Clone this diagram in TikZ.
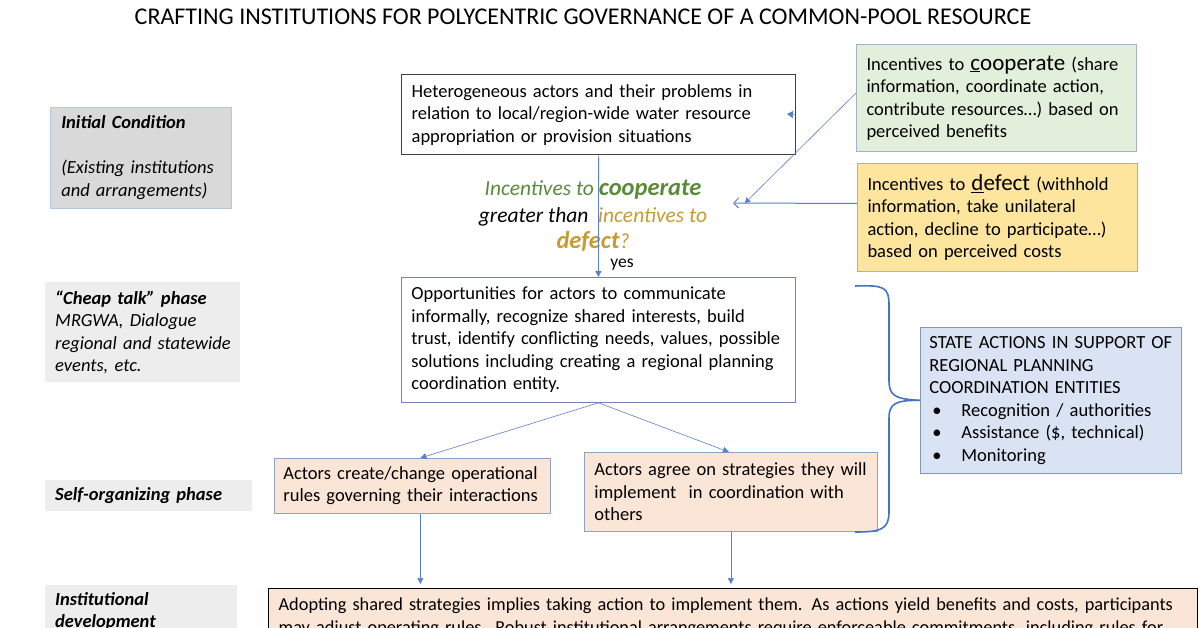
\documentclass[tikz,border=0pt]{standalone}
\usepackage{fontspec}
\setmainfont{Carlito}
\usetikzlibrary{arrows.meta}
\definecolor{lblgray}{HTML}{D9D9D9}
\definecolor{lblgraylt}{HTML}{EDEDED}
\definecolor{initborder}{HTML}{B4C7E7}
\definecolor{grfill}{HTML}{E2EFDA}
\definecolor{ylfill}{HTML}{FDE59E}
\definecolor{softborder}{HTML}{A4B1C8}
\definecolor{statefill}{HTML}{DAE3F3}
\definecolor{stateborder}{HTML}{7F97C4}
\definecolor{tanfill}{HTML}{FBE5D6}
\definecolor{tanborder}{HTML}{8FA1C4}
\definecolor{arrowblue}{HTML}{5B7FCE}
\definecolor{bracecol}{HTML}{4472C4}
\definecolor{qgreen}{HTML}{5A8A3A}
\definecolor{qgold}{HTML}{C49B34}
\definecolor{hetborder}{HTML}{404040}
\definecolor{oppborder}{HTML}{7086B0}
\newcommand\bodyfont{\fontsize{18.5}{22.5}\selectfont}
\newcommand\bigword{\fontsize{23}{22.5}\selectfont}
\newcommand\lineb[1]{\mbox{#1}}
\begin{document}
\begin{tikzpicture}[x=1pt,y=-1pt,
  box/.style={rectangle, anchor=north west, align=left, inner xsep=10pt, inner ysep=0pt, font=\bodyfont},
  label/.style={box, fill=lblgraylt, font=\bodyfont\itshape},
  arr/.style={draw=arrowblue, line width=0.8pt, -{Triangle[length=6pt,width=6pt]}},
  bracestyle/.style={draw=bracecol, line width=1.6pt}]
\useasboundingbox (0,0) rectangle (1200,628);
\clip (0,0) rectangle (1200,628);

% title
\node[font=\fontsize{24}{28}\selectfont] (title) at (583,17) {CRAFTING INSTITUTIONS FOR POLYCENTRIC GOVERNANCE OF A COMMON-POOL RESOURCE};

% left labels
\node[label, fill=lblgray, draw=initborder, line width=0.6pt, minimum width=181pt, minimum height=101pt, text width=159pt, inner xsep=11pt] (init) at (50,107)
  {\lineb{\textbf{Initial Condition}}\\\strut\\\lineb{(Existing institutions}\\\lineb{and arrangements)}};
\node[label, minimum width=195pt, minimum height=100pt, text width=175pt] (cheap) at (45,282)
  {\lineb{\textbf{“Cheap talk” phase}}\\\lineb{MRGWA, Dialogue}\\\lineb{regional and statewide}\\\lineb{events, etc.}};
\node[label, minimum width=207pt, minimum height=31pt, text width=187pt] (self) at (45,480)
  {\lineb{\textbf{Self-organizing phase}}};
\node[label, minimum width=192pt, minimum height=53pt, text width=172pt] (inst) at (45,585)
  {\textbf{Institutional}\\\textbf{development}};

% main boxes
\node[box, draw=hetborder, line width=1.3pt, fill=white, minimum width=394pt, minimum height=80pt, text width=374pt] (het) at (401,74)
  {\lineb{Heterogeneous actors and their problems in}\\\lineb{relation to local/region-wide water resource}\\\lineb{appropriation or provision situations}};
\node[box, draw=oppborder, line width=0.8pt, fill=white, minimum width=394pt, minimum height=125pt, text width=374pt] (opp) at (401,277)
  {\lineb{Opportunities for actors to communicate}\\\lineb{informally, recognize shared interests, build}\\\lineb{trust, identify conflicting needs, values, possible}\\\lineb{solutions including creating a regional planning}\\\lineb{coordination entity.}};
\node[box, draw=softborder, line width=1pt, fill=grfill, minimum width=280pt, minimum height=107pt, text width=260pt] (green) at (856,44)
  {\lineb{Incentives to {\bigword\underline{c}ooperate} (share}\\\lineb{information, coordinate action,}\\\lineb{contribute resources…) based on}\\\lineb{perceived benefits}};
\node[box, draw=softborder, line width=1pt, fill=ylfill, minimum width=280pt, minimum height=108pt, text width=260pt] (yellow) at (857,163)
  {\lineb{Incentives to {\bigword\underline{d}efect} (withhold}\\\lineb{information, take unilateral}\\\lineb{action, decline to participate…)}\\\lineb{based on perceived costs}};
\node[box, draw=stateborder, line width=0.8pt, fill=statefill, minimum width=261pt, minimum height=146pt, text width=243pt, inner xsep=9pt] (state) at (920,327)
  {\lineb{STATE ACTIONS IN SUPPORT OF}\\\lineb{REGIONAL PLANNING}\\\lineb{COORDINATION ENTITIES}\\
   \lineb{\hspace*{3pt}\makebox[29pt][l]{•}Recognition / authorities}\\
   \lineb{\hspace*{3pt}\makebox[29pt][l]{•}Assistance (\$, technical)}\\
   \lineb{\hspace*{3pt}\makebox[29pt][l]{•}Monitoring}};
\node[box, draw=tanborder, line width=0.8pt, fill=tanfill, minimum width=276pt, minimum height=55pt, text width=258pt, inner xsep=9pt] (lt) at (274,458)
  {\lineb{Actors create/change operational}\\\lineb{rules governing their interactions}};
\node[box, draw=tanborder, line width=0.8pt, fill=tanfill, minimum width=293pt, minimum height=79pt, text width=273pt] (rt) at (584,452)
  {\lineb{Actors agree on strategies they will}\\\lineb{implement\ \ in coordination with}\\\lineb{others}};
\node[box, draw=black, line width=1.3pt, fill=tanfill, minimum width=929pt, minimum height=57pt, text width=909pt, font=\fontsize{18.3}{22.5}\selectfont] (bot) at (268,588)
  {\lineb{Adopting shared strategies implies taking action to implement them. As actions yield benefits and costs, participants}\\\lineb{may adjust operating rules. Robust institutional arrangements require enforceable commitments, including rules for}};

% question
\node[align=center, font=\fontsize{21.5}{26.5}\selectfont\itshape, inner sep=0pt] (q) at (593,216)
  {{\color{qgreen}Incentives to {\fontsize{24.5}{26.5}\selectfont\bfseries cooperate}}\\
   greater than \ {\color{qgold}incentives to}\\
   {\color{qgold}{\fontsize{24.5}{26.5}\selectfont\bfseries defect}?}};
\node[font=\fontsize{17.5}{20}\selectfont, inner sep=1pt] (yes) at (622,265) {yes};
\coordinate (qin) at (733,203);
\coordinate (qin2) at (745,203);
\coordinate (stray) at (787,114);

% connectors
\draw[arr] (het.south) -- (opp.north);
\draw[draw=arrowblue, line width=0.6pt, -{Triangle[length=5pt,width=6pt]}] ([yshift=5pt]green.west) -- (qin2);
\draw[draw=arrowblue, line width=1pt, -{Straight Barb[length=5pt,width=10pt]}] ([yshift=14pt]yellow.west) -- (qin);
\draw[draw=arrowblue, -{Triangle[length=6pt,width=7pt]}] ([xshift=-1pt]het.east) -- (stray);
\draw[arr, line width=0.6pt] (opp.south) -- ([xshift=8pt]lt.north);
\draw[arr, line width=0.6pt] (opp.south) -- ([xshift=-2pt]rt.north);
\draw[arr, line width=0.6pt, shorten >=4pt] ([xshift=8pt]lt.south) -- ([xshift=8pt]lt.south |- bot.north);
\draw[arr, line width=0.6pt, shorten >=4pt] (rt.south) -- (rt.south |- bot.north);

% brace
\draw[bracestyle] (855,286) .. controls (884,285) and (889,287) .. (889,305)
  -- (889,380) .. controls (889,396) and (895,399) .. (state.west);
\draw[bracestyle] (state.west) .. controls (895,400) and (889,404) .. (889,418)
  -- (889,512) .. controls (889,530) and (880,532) .. (855,532);
\end{tikzpicture}
\end{document}
